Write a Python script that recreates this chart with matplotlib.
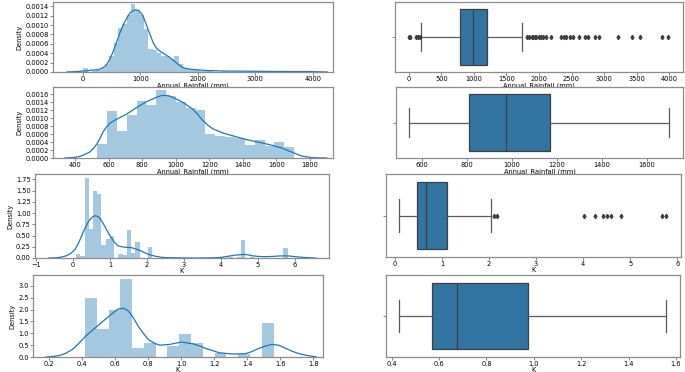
import numpy as np
import matplotlib
matplotlib.use("Agg")
import matplotlib.pyplot as plt
from matplotlib.ticker import FormatStrFormatter

# --- data ------------------------------------------------------------------
# row 1: Annual_Rainfall (mm), all records
rain_all_range = (10, 3996)
rain_all_hist = [0.00008, 0.00001, 0.00002, 0.00004, 0.00008, 0.00016, 0.00033,
                 0.00062, 0.00093, 0.00103, 0.00122, 0.00144, 0.00132, 0.00122,
                 0.00091, 0.00049, 0.00047, 0.00040, 0.00033, 0.00033, 0.00028,
                 0.00035, 0.00016, 0.00008, 0.00007, 0.00005, 0.00004, 0.00003,
                 0.00002, 0.00002, 0.00001, 0.00001, 0.00002, 0.00001, 0.00001,
                 0.00001, 0.00001, 0.0, 0.00001, 0.0, 0.0, 0.00001, 0.0,
                 0.00001, 0.00001, 0.0, 0.0, 0.0, 0.0, 0.0, 0.0, 0.00001, 0.00001]
rain_all_kde_x = [-280, -100, 92, 266, 330, 383, 430, 470, 515, 557, 600, 643,
                  690, 730, 775, 817, 860, 904, 935, 962, 1000, 1049, 1090,
                  1136, 1180, 1223, 1265, 1310, 1370, 1426, 1485, 1542, 1600,
                  1658, 1715, 1774, 1860, 1948, 2179, 2500, 3000, 3500, 3900,
                  4250]
rain_all_kde_y = [0.0, 0.00001, 0.00003, 0.00005, 0.00008, 0.00012, 0.00019,
                  0.00028, 0.0004, 0.00054, 0.00068, 0.00083, 0.00097, 0.00107,
                  0.00117, 0.00125, 0.0013, 0.00132, 0.00132, 0.00131, 0.00127,
                  0.00118, 0.00105, 0.0009, 0.00076, 0.00062, 0.00053, 0.00047,
                  0.00042, 0.00038, 0.00033, 0.00028, 0.00022, 0.00016, 0.00011,
                  0.00008, 0.00006, 0.00005, 0.00003, 0.00002, 0.000015,
                  0.00001, 0.00001, 0.0]
rain_all_box = dict(whislo=184, q1=784, med=978, q3=1204, whishi=1746)
rain_all_fliers = [5, 20, 110, 140, 165, 1818, 1849, 1885, 1910, 1936, 1961,
                   1997, 2028, 2064, 2105, 2192, 2346, 2382, 2423, 2474, 2525,
                   2617, 2704, 2755, 2858, 2924, 3216, 3437, 3549, 3898, 3990]

# row 2: Annual_Rainfall (mm), outliers removed
rain_clean_range = (532, 1705)
rain_clean_hist = [0.00035, 0.00119, 0.00068, 0.00108, 0.00144, 0.00134, 0.0017,
                   0.00155, 0.0014, 0.00126, 0.0012, 0.0006, 0.00056, 0.00052,
                   0.0005, 0.00033, 0.00046, 0.00031, 0.00041, 0.00028]
rain_clean_kde_x = [340, 390, 429, 460, 488, 510, 532, 550, 568, 588, 608, 630,
                    657, 707, 766, 825, 884, 910, 933, 958, 982, 1041, 1100,
                    1130, 1159, 1190, 1218, 1250, 1278, 1337, 1396, 1455, 1512,
                    1573, 1632, 1691, 1720, 1750, 1780, 1810, 1850, 1900]
rain_clean_kde_y = [0.0, 0.00001, 0.00004, 0.00009, 0.00015, 0.00024, 0.00036,
                    0.0005, 0.00066, 0.00078, 0.00087, 0.00093, 0.00099, 0.0011,
                    0.00126, 0.00141, 0.00152, 0.00156, 0.00157, 0.00156,
                    0.00152, 0.0014, 0.00123, 0.0011, 0.00095, 0.00083, 0.00074,
                    0.00068, 0.00063, 0.00056, 0.00049, 0.00043, 0.00038,
                    0.00032, 0.00025, 0.00015, 0.0001, 0.00005, 0.00003,
                    0.00001, 0.000003, 0.0]
rain_clean_box = dict(whislo=545, q1=812, med=975, q3=1170, whishi=1701)

# row 3: K, all records
k_all_range = (0.08, 5.8)
k_all_hist = [0.1, 0.05, 1.78, 0.65, 1.5, 1.42, 0.28, 0.42, 0.5, 0.0, 0.1, 0.06,
              0.63, 0.12, 0.36, 0.0, 0.0, 0.25, 0, 0, 0, 0, 0, 0, 0, 0, 0, 0, 0,
              0, 0, 0, 0, 0, 0.02, 0.0, 0.02, 0.0, 0.03, 0.4, 0.0, 0.03, 0, 0,
              0, 0, 0, 0, 0, 0.23]
k_all_kde_x = [-0.67, -0.45, -0.32, -0.18, -0.05, 0.05, 0.13, 0.22, 0.32, 0.39,
               0.45, 0.52, 0.59, 0.65, 0.72, 0.79, 0.86, 0.95, 1.04, 1.13,
               1.22, 1.31, 1.4, 1.58, 1.77, 1.86, 1.95, 2.08, 2.22, 2.4, 2.58,
               3.03, 3.5, 3.85, 4.05, 4.2, 4.35, 4.48, 4.62, 4.73, 4.84, 5.0,
               5.2, 5.4, 5.57, 5.7, 5.84, 6.11, 6.35, 6.56]
k_all_kde_y = [0.0, 0.005, 0.02, 0.05, 0.11, 0.19, 0.3, 0.47, 0.66, 0.77, 0.85,
               0.91, 0.94, 0.93, 0.89, 0.8, 0.7, 0.56, 0.44, 0.34, 0.27, 0.25,
               0.24, 0.23, 0.18, 0.15, 0.11, 0.07, 0.04, 0.015, 0.007, 0.0,
               0.0, 0.005, 0.02, 0.04, 0.06, 0.07, 0.08, 0.07, 0.05, 0.035,
               0.03, 0.035, 0.045, 0.047, 0.045, 0.02, 0.007, 0.0]
k_all_box = dict(whislo=0.085, q1=0.475, med=0.67, q3=1.1, whishi=2.05)
k_all_fliers = [2.1, 2.16, 4.02, 4.25, 4.43, 4.5, 4.6, 4.8, 5.68, 5.77]

# row 4: K, outliers removed
k_clean_range = (0.416, 1.56)
k_clean_hist = [2.51, 1.19, 1.99, 3.31, 0.4, 0.58, 0.0, 0.47, 0.99, 0.6, 0.0,
                0.18, 0.0, 0.13, 0.0, 1.42]
k_clean_kde_x = [0.18, 0.22, 0.26, 0.3, 0.34, 0.38, 0.42, 0.46, 0.5, 0.56,
                 0.59, 0.62, 0.65, 0.68, 0.71, 0.74, 0.77, 0.8, 0.84, 0.87,
                 0.93, 1.0, 1.07, 1.11, 1.15, 1.19, 1.23, 1.31, 1.39, 1.43,
                 1.47, 1.51, 1.55, 1.59, 1.63, 1.67, 1.71, 1.76, 1.82]
k_clean_kde_y = [0.0, 0.02, 0.06, 0.16, 0.32, 0.58, 0.88, 1.12, 1.36, 1.71,
                 1.88, 2.03, 2.06, 1.94, 1.65, 1.29, 1.0, 0.74, 0.57, 0.5, 0.53,
                 0.63, 0.56, 0.47, 0.36, 0.27, 0.18, 0.125, 0.14, 0.23, 0.36,
                 0.46, 0.53, 0.5, 0.38, 0.25, 0.15, 0.07, 0.0]
k_clean_box = dict(whislo=0.431, q1=0.569, med=0.677, q3=0.974, whishi=1.557)

rain_label = "Annual_Rainfall (mm)"
k_label = "K"

# --- layout (pixel boxes: left, top, right, bottom) --------------------------
W, H = 685, 372
fig = plt.figure(figsize=(W / 100, H / 100), dpi=100)


def add_ax(l, t, r, b):
    return fig.add_axes([l / W, 1 - b / H, (r - l) / W, (b - t) / H])


FS = 4.8
HIST_C = "#1f77b4"
BOX_C = "#3274a1"
LINE_C = "#3f3f3f"


def style(ax):
    for s in ax.spines.values():
        s.set_color("#8c8c8c")
        s.set_linewidth(0.9)
    ax.tick_params(labelsize=FS, length=2, width=0.5, pad=1, color="#555555")


def dist(ax, rng, heights, kx, ky, xlabel, xticks, xlim, yticks, ylim, yfmt):
    edges = np.linspace(rng[0], rng[1], len(heights) + 1)
    ax.bar(edges[:-1], heights, width=np.diff(edges), align="edge",
           color=HIST_C, alpha=0.4, linewidth=0)
    ax.plot(kx, ky, color=HIST_C, lw=0.9)
    ax.set_xticks(xticks)
    ax.set_xlim(*xlim)
    ax.set_yticks(yticks)
    ax.set_ylim(*ylim)
    ax.yaxis.set_major_formatter(FormatStrFormatter(yfmt))
    ax.set_xlabel(xlabel, fontsize=FS, labelpad=0)
    ax.set_ylabel("Density", fontsize=FS, labelpad=2)
    style(ax)


def box(ax, stats, fliers, xlabel, xticks, xlim):
    st = dict(stats, fliers=fliers)
    ax.bxp([st], vert=False, positions=[0], widths=0.8, patch_artist=True,
           boxprops=dict(facecolor=BOX_C, edgecolor=LINE_C, lw=0.9),
           medianprops=dict(color=LINE_C, lw=0.9),
           whiskerprops=dict(color="#5a5a5a", lw=0.9),
           capprops=dict(color="#5a5a5a", lw=0.9),
           flierprops=dict(marker="d", markersize=2.2, markerfacecolor=LINE_C,
                           markeredgecolor=LINE_C))
    ax.set_ylim(0.5, -0.5)
    ax.set_yticks([0])
    ax.set_yticklabels([""])
    ax.set_xticks(xticks)
    ax.set_xlim(*xlim)
    ax.set_xlabel(xlabel, fontsize=FS, labelpad=0)
    style(ax)


# row 1
ax = add_ax(53, 2, 333, 72)
dist(ax, rain_all_range, rain_all_hist, rain_all_kde_x, rain_all_kde_y,
     rain_label, np.arange(0, 4001, 1000), (-520, 4350),
     np.arange(0, 0.00141, 0.0002), (0, 0.00149), "%.4f")
ax = add_ax(395, 2, 683, 72)
box(ax, rain_all_box, rain_all_fliers, rain_label,
    np.arange(0, 4001, 500), (-215, 4215))

# row 2
ax = add_ax(53, 87, 333, 158)
dist(ax, rain_clean_range, rain_clean_hist, rain_clean_kde_x, rain_clean_kde_y,
     rain_label, np.arange(400, 1801, 200), (269, 1937),
     np.arange(0, 0.00161, 0.0002), (0, 0.00178), "%.4f")
ax = add_ax(396, 87, 683, 158)
box(ax, rain_clean_box, [], rain_label, np.arange(600, 1601, 200), (486, 1761))

# row 3
ax = add_ax(35, 174, 329, 258)
dist(ax, k_all_range, k_all_hist, k_all_kde_x, k_all_kde_y,
     k_label, np.arange(-1, 7, 1), (-1.03, 6.92),
     np.arange(0, 1.76, 0.25), (0, 1.867), "%.2f")
ax = add_ax(386, 174, 681, 257)
box(ax, k_all_box, k_all_fliers, k_label, np.arange(0, 7, 1), (-0.19, 6.08))

# row 4
ax = add_ax(33, 275, 323, 357)
dist(ax, k_clean_range, k_clean_hist, k_clean_kde_x, k_clean_kde_y,
     k_label, np.round(np.arange(0.2, 1.81, 0.2), 1), (0.101, 1.86),
     np.arange(0, 3.01, 0.5), (0, 3.46), "%.1f")
ax = add_ax(386, 275, 680, 357)
box(ax, k_clean_box, [], k_label, np.round(np.arange(0.4, 1.61, 0.2), 1),
    (0.376, 1.617))

fig.savefig("out.png", dpi=100, facecolor="white")
